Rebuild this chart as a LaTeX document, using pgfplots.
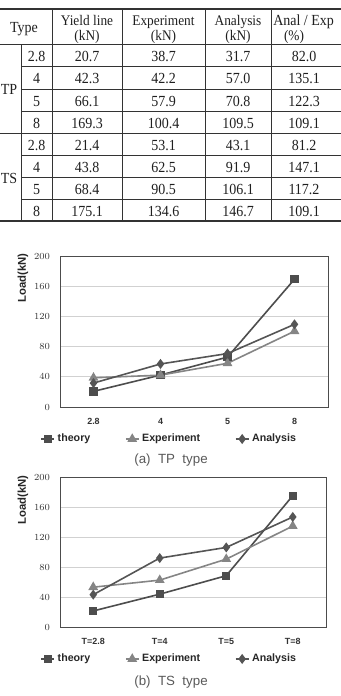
\documentclass[border=0pt]{standalone}
\usepackage{pgfplots}
\pgfplotsset{compat=1.18}
\usepackage{graphicx}
\usepackage{fontspec}
\setmainfont{Liberation Serif}
\setsansfont{Liberation Sans}
\definecolor{cT}{HTML}{4D4D4D}
\definecolor{cE}{HTML}{858585}
\definecolor{cA}{HTML}{555555}
\definecolor{tline}{HTML}{333333}
\newcommand\T[1]{\scalebox{1}[1.1]{#1}}
\pgfplotsset{
  mychart/.style={
    scale only axis,
    xmin=-0.5, xmax=3.5, ymin=0, ymax=200,
    xtick={0,1,2,3}, ytick={0,40,...,200},
    ymajorgrids, grid style={draw=black!18, line width=0.5pt},
    axis line style={draw=black!70, line width=0.7pt},
    tick style={draw=none},
    tick label style={font=\sffamily\bfseries\fontsize{6.7}{8}\selectfont, text=black!80},
    yticklabel style={xshift=-4pt},
    xticklabel style={yshift=-5pt},
    legend columns=3,
    legend style={draw=none, fill=none, anchor=center,
      font=\sffamily\bfseries\fontsize{8}{9}\selectfont, text=black!85,
      /tikz/every even column/.append style={column sep=24pt}},
    legend image code/.code={\draw[mark repeat=2,mark phase=2,#1] plot coordinates {(0cm,0cm) (0.17cm,0cm) (0.34cm,0cm)};},
  },
  sT/.style={color=cT, line width=1.2pt, mark=square*, mark size=2.5pt, mark options={solid}},
  sE/.style={color=cE, line width=1.2pt, mark=triangle*, mark size=3.1pt, mark options={solid}},
  sA/.style={color=cA, line width=1.2pt, mark=diamond*, mark size=2.8pt, mark options={solid}},
}
\begin{document}
\begin{tikzpicture}
\useasboundingbox (0,0) rectangle (255.75pt,-522pt);
\begin{scope}[x=0.75pt,y=-0.75pt]
  \clip (0,0) rectangle (341,230);
  % table rules
  \draw[tline, line width=1.5pt] (0,9) -- (345,9);
  \draw[tline, line width=1pt] (0,221) -- (345,221);
  \draw[tline, line width=0.6pt] (0,44) -- (345,44);
  \draw[tline, line width=0.6pt] (0,133) -- (345,133);
  \foreach \yy in {66,89,111,155,177,199} \draw[tline, line width=0.6pt] (21,\yy) -- (345,\yy);
  \draw[tline, line width=0.6pt] (21,44) -- (21,221);
  \foreach \xx in {52,122,205,271} \draw[tline, line width=0.6pt] (\xx,9) -- (\xx,221);
  % header
  \begin{scope}[every node/.style={anchor=base, inner sep=0pt, text=black!88, font=\fontsize{10.5}{12}\selectfont}]
    \node at (24,32) {\T{Type}};
    \node[font=\fontsize{10}{12}\selectfont] at (87,25.5) {\T{Yield line}};
    \node[font=\fontsize{10}{12}\selectfont] at (87,40) {\T{(kN)}};
    \node[font=\fontsize{10}{12}\selectfont] at (163.5,25.5) {\T{Experiment}};
    \node[font=\fontsize{10}{12}\selectfont] at (163.5,40) {\T{(kN)}};
    \node[font=\fontsize{10}{12}\selectfont] at (238,25.5) {\T{Analysis}};
    \node[font=\fontsize{10}{12}\selectfont] at (238,40) {\T{(kN)}};
    \node[anchor=base west, font=\fontsize{10.5}{12}\selectfont] at (273,25.5) {\T{Anal / Exp}};
    \node[font=\fontsize{10}{12}\selectfont] at (294,40) {\T{(\%)}};
    \node at (9,94.5) {\T{TP}};
    \node at (9,183) {\T{TS}};
    \foreach \a/\b/\c/\d/\e/\yy in {
      2.8/20.7/38.7/31.7/82.0/55,
      4/42.3/42.2/57.0/135.1/77.5,
      5/66.1/57.9/70.8/122.3/100,
      8/169.3/100.4/109.5/109.1/122,
      2.8/21.4/53.1/43.1/81.2/144,
      4/43.8/62.5/91.9/147.1/166,
      5/68.4/90.5/106.1/117.2/188,
      8/175.1/134.6/146.7/109.1/210}{
      \node at (36.5,\yy+6) {\T{\a}};
      \node at (87,\yy+6) {\T{\b}};
      \node at (163.5,\yy+6) {\T{\c}};
      \node at (238,\yy+6) {\T{\d}};
      \node at (304,\yy+6) {\T{\e}};
    }
  \end{scope}
\end{scope}

% chart (a)
\begin{axis}[mychart, width=201pt, height=113.25pt,
  at={(45pt,-305.25pt)}, anchor=south west,
  xticklabels={2.8,4,5,8},
  legend style={at={(0.409,-0.212)}}]
  \addplot[sT] coordinates {(0,20.7) (1,42.3) (2,66.1) (3,169.3)};
  \addlegendentry{theory}
  \addplot[sE] coordinates {(0,38.7) (1,42.2) (2,57.9) (3,100.4)};
  \addlegendentry{Experiment}
  \addplot[sA] coordinates {(0,31.7) (1,57.0) (2,70.8) (3,109.5)};
  \addlegendentry{Analysis}
\end{axis}
\node[rotate=90, font=\sffamily\bfseries\fontsize{8.5}{10}\selectfont, text=black!85] at (17.25pt,-208.5pt) {Load(kN)};
\node[font=\sffamily\fontsize{10}{12}\selectfont, text=black!65] at (128.25pt,-345pt) {(a) \ TP \ type};

% chart (b)
\begin{axis}[mychart, width=199.5pt, height=112.5pt,
  at={(45pt,-470.25pt)}, anchor=south west,
  xticklabels={T=2.8,T=4,T=5,T=8},
  legend style={at={(0.412,-0.213)}}]
  \addplot[sT] coordinates {(0,21.4) (1,43.8) (2,68.4) (3,175.1)};
  \addlegendentry{theory}
  \addplot[sE] coordinates {(0,53.1) (1,62.5) (2,90.5) (3,134.6)};
  \addlegendentry{Experiment}
  \addplot[sA] coordinates {(0,43.1) (1,91.9) (2,106.1) (3,146.7)};
  \addlegendentry{Analysis}
\end{axis}
\node[rotate=90, font=\sffamily\bfseries\fontsize{8.5}{10}\selectfont, text=black!85] at (17.25pt,-375pt) {Load(kN)};
\node[font=\sffamily\fontsize{10}{12}\selectfont, text=black!65] at (128.25pt,-511.5pt) {(b) \ TS \ type};
\end{tikzpicture}
\end{document}
